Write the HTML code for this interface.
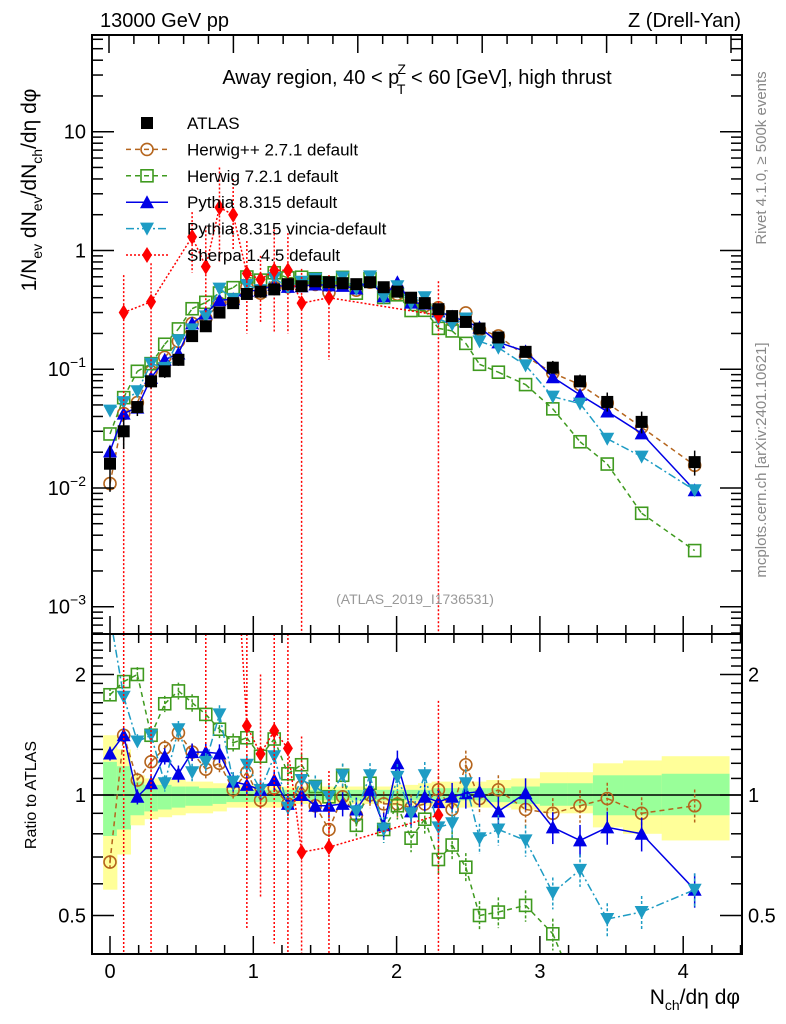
<!DOCTYPE html>
<html><head><meta charset="utf-8"><style>
html,body{margin:0;padding:0;background:#fff;overflow:hidden;width:786px;height:1024px;}
svg{display:block;overflow:hidden;font-family:"Liberation Sans",Arial,sans-serif;}
</style></head><body>
<svg id="c" width="786" height="1024" viewBox="0 0 786 1024" xmlns="http://www.w3.org/2000/svg">
<defs>
<clipPath id="clipMain"><rect x="92" y="35" width="650" height="599"/></clipPath>
<clipPath id="clipRatio"><rect x="92" y="634" width="650" height="320"/></clipPath>
</defs>
<g id="bands" clip-path="url(#clipRatio)"></g>
<line x1="92" y1="795" x2="742" y2="795" stroke="#000" stroke-width="1.5"/>
<g id="series-main" clip-path="url(#clipMain)"></g>
<g id="series-ratio" clip-path="url(#clipRatio)"></g>
<g id="axes"></g>
<rect x="92" y="35" width="650" height="599" fill="none" stroke="#000" stroke-width="2"/>
<rect x="92" y="634" width="650" height="320" fill="none" stroke="#000" stroke-width="2"/>
<text x="100" y="27" font-size="20">13000 GeV pp</text>
<text x="741" y="27" font-size="20" text-anchor="end">Z (Drell-Yan)</text>
<text x="417" y="84" font-size="20" text-anchor="middle">Away region, 40 &lt; p<tspan font-size="14" dy="-10" dx="-2">Z</tspan><tspan font-size="14" dy="20" dx="-9">T</tspan><tspan dy="-10"> &lt; 60 [GeV], high thrust</tspan></text>
<text transform="translate(36,190) rotate(-90)" font-size="21" text-anchor="middle">1/N<tspan font-size="14" dy="6">ev</tspan><tspan dy="-6"> dN</tspan><tspan font-size="14" dy="6">ev</tspan><tspan dy="-6">/dN</tspan><tspan font-size="14" dy="6">ch</tspan><tspan dy="-6">/dη dφ</tspan></text>
<text transform="translate(36,795) rotate(-90)" font-size="16" text-anchor="middle">Ratio to ATLAS</text>
<text x="740" y="1004" font-size="21" text-anchor="end">N<tspan font-size="14" dy="6">ch</tspan><tspan dy="-6">/dη dφ</tspan></text>
<text transform="translate(766,158) rotate(-90)" font-size="15" fill="#888" text-anchor="middle">Rivet 4.1.0, ≥ 500k events</text>
<text transform="translate(766,460) rotate(-90)" font-size="15" fill="#888" text-anchor="middle">mcplots.cern.ch [arXiv:2401.10621]</text>
<text x="415" y="604" font-size="14" fill="#999" text-anchor="middle">(ATLAS_2019_I1736531)</text>
<g id="legend"></g>
</svg>
<script>
const xCenters = [0,0.0955,0.191,0.2865,0.382,0.4775,0.573,0.6685,0.764,0.8595,0.955,1.0505,1.146,1.2415,1.337,1.4325,1.528,1.6235,1.719,1.8145,1.91,2.0055,2.101,2.1965,2.292,2.3875,2.483,2.5785,2.71,2.90,3.09,3.28,3.47,3.71,4.08];
const binEdges = [-0.048,0.048,0.143,0.239,0.334,0.43,0.525,0.621,0.716,0.812,0.907,1.003,1.098,1.194,1.289,1.385,1.48,1.576,1.671,1.767,1.862,1.958,2.053,2.149,2.244,2.34,2.435,2.531,2.626,2.80,3.0,3.19,3.37,3.58,3.85,4.32];
const atlas = [0.016,0.030,0.048,0.079,0.096,0.12,0.19,0.23,0.30,0.36,0.43,0.45,0.47,0.52,0.50,0.55,0.54,0.53,0.52,0.54,0.49,0.45,0.40,0.36,0.32,0.28,0.25,0.22,0.185,0.14,0.103,0.079,0.053,0.036,0.0165];
const yellowHi = [1.41,1.30,1.12,1.10,1.10,1.09,1.08,1.08,1.07,1.06,1.06,1.06,1.06,1.05,1.05,1.05,1.05,1.05,1.05,1.05,1.05,1.06,1.06,1.07,1.08,1.08,1.08,1.08,1.09,1.10,1.14,1.14,1.20,1.22,1.25];
const yellowLo = [0.58,0.71,0.84,0.87,0.88,0.89,0.90,0.90,0.91,0.93,0.93,0.93,0.93,0.95,0.95,0.95,0.95,0.95,0.95,0.95,0.95,0.94,0.94,0.94,0.93,0.93,0.93,0.93,0.93,0.92,0.90,0.90,0.83,0.80,0.77];
const greenHi = [1.21,1.18,1.08,1.06,1.06,1.05,1.05,1.04,1.04,1.03,1.03,1.03,1.03,1.03,1.03,1.03,1.03,1.03,1.03,1.03,1.03,1.03,1.03,1.03,1.04,1.04,1.04,1.04,1.04,1.05,1.07,1.07,1.12,1.12,1.13];
const greenLo = [0.79,0.82,0.89,0.91,0.92,0.93,0.94,0.94,0.95,0.96,0.96,0.96,0.96,0.97,0.97,0.97,0.97,0.97,0.97,0.97,0.97,0.97,0.97,0.97,0.97,0.97,0.97,0.97,0.96,0.95,0.94,0.94,0.89,0.89,0.89];
const ratioHerwigpp = [0.68,1.41,1.09,1.21,1.31,1.43,1.28,1.16,1.20,1.03,1.14,0.97,1.04,0.95,1.05,0.94,0.82,0.99,0.89,1.0,0.95,0.95,0.93,0.95,1.03,0.92,1.19,0.98,1.03,0.92,0.90,0.94,0.98,0.90,0.94];
const ratioHerwig7 = [1.78,1.92,2.0,1.41,1.69,1.82,1.70,1.59,1.46,1.35,1.39,1.25,1.38,1.13,1.19,1.05,0.99,1.12,0.84,1.07,0.82,0.94,0.78,0.87,0.69,0.75,0.66,0.50,0.51,0.53,0.45,0.31,0.30,0.17,0.18];
const ratioPythia = [1.27,1.41,0.99,1.07,1.25,1.13,1.28,1.28,1.27,1.08,1.06,1.03,1.09,0.95,1.0,0.94,0.94,0.95,0.92,1.03,0.84,1.20,0.91,0.99,0.96,0.99,1.01,1.02,0.91,1.01,0.83,0.77,0.83,0.80,0.58];
const ratioVincia = [2.8,1.76,1.36,1.41,1.07,1.46,1.14,1.21,1.59,1.08,1.19,1.03,1.25,0.93,1.09,1.05,0.99,1.12,0.91,1.12,0.82,1.11,0.90,1.12,0.83,0.85,1.07,0.78,0.82,0.77,0.57,0.65,0.49,0.51,0.58];
const sherpaIdx = [1,3,6,7,8,9,10,11,12,13,14,16,24];
const sherpaVal = [0.30,0.37,1.3,0.73,2.3,2.0,0.64,0.57,0.68,0.68,0.36,0.40,0.285];
const sherpaHi = [0.62,0.78,2.1,1.6,5,4,1.2,0.9,1.5,1.4,0.7,0.62,0.55];
const sherpaLo = [0.0001,0.0001,0.65,0.3,0.8,1.0,0.2,0.25,0.2,0.2,0.0001,0.12,0.0001];
const mainTicks = [10,1,0.1,0.01,0.001];
const mainTickLabels = ["10","1","10^-1","10^-2","10^-3"];
const ratioTicks = [2,1,0.5];
const ratioTickLabels = ["2","1","0.5"];
const xTicks = [0,1,2,3,4];

const NS="http://www.w3.org/2000/svg";
function X(v){return 110+143.3*v;}
function YM(v){return 131.7-118.75*(Math.log10(v)-1);}
function YR(r){return 795-120.5*Math.log2(r);}
const RT=634, RB=954, MT=35, MB=634;
function clampM(y){return Math.max(MT,Math.min(MB,y));}
function clampR(y){return Math.max(RT,Math.min(RB,y));}
function mk(tag,attrs,parent){const e=document.createElementNS(NS,tag);for(const k in attrs)e.setAttribute(k,attrs[k]);parent.appendChild(e);return e;}
// clip a polyline to y-range [t,b], return path d
function clipPath(pts,t,b){
  let d='';
  for(let i=0;i<pts.length-1;i++){
    let [x1,y1]=pts[i],[x2,y2]=pts[i+1];
    let u0=0,u1=1;const dy=y2-y1;
    if(dy===0){ if(y1<t||y1>b) continue; }
    else{
      let ua=(t-y1)/dy, ub=(b-y1)/dy;
      let lo=Math.min(ua,ub), hi=Math.max(ua,ub);
      u0=Math.max(0,lo); u1=Math.min(1,hi);
      if(u0>u1) continue;
    }
    const ax=x1+(x2-x1)*u0, ay=y1+dy*u0, bx=x1+(x2-x1)*u1, by=y1+dy*u1;
    d+=`M${ax.toFixed(2)},${ay.toFixed(2)}L${bx.toFixed(2)},${by.toFixed(2)}`;
  }
  return d;
}
const gm=document.getElementById('series-main'), gr=document.getElementById('series-ratio'), ga=document.getElementById('axes'), gb=document.getElementById('bands'), gl=document.getElementById('legend');

for(let i=0;i<atlas.length;i++){
  const x1=X(binEdges[i]), x2=X(binEdges[i+1]);
  let r=mk('rect',{x:x1,y:YR(yellowHi[i]),width:x2-x1+0.5,height:YR(yellowLo[i])-YR(yellowHi[i]),fill:'#ffff99'},gb);
  
  
  r=mk('rect',{x:x1,y:YR(greenHi[i]),width:x2-x1+0.5,height:YR(greenLo[i])-YR(greenHi[i]),fill:'#99ff99'},gb);
  
  
}

function marker(type,x,y,color,parent,name){
  let e;
  if(type==='sq') e=mk('rect',{x:x-6,y:y-6,width:12,height:12,fill:'#000'},parent);
  else if(type==='circ') e=mk('circle',{cx:x,cy:y,r:6,fill:'none',stroke:color,'stroke-width':1.6},parent);
  else if(type==='osq') e=mk('rect',{x:x-6,y:y-6,width:12,height:12,fill:'none',stroke:color,'stroke-width':1.6},parent);
  else if(type==='tri') e=mk('polygon',{points:`${x},${y-7} ${x-7},${y+6} ${x+7},${y+6}`,fill:color},parent);
  else if(type==='itri') e=mk('polygon',{points:`${x},${y+7} ${x-7},${y-6} ${x+7},${y-6}`,fill:color},parent);
  else if(type==='dia') e=mk('polygon',{points:`${x},${y-8} ${x-5},${y} ${x},${y+8} ${x+5},${y}`,fill:color},parent);
  
  
  return e;
}

const mcs=[
 {r:ratioHerwigpp,color:'#b5651d',dash:'5,4',m:'circ',name:'herwigpp'},
 {r:ratioHerwig7,color:'#3f9a1f',dash:'5,4',m:'osq',name:'herwig7'},
 {r:ratioPythia,color:'#0000e6',dash:'',m:'tri',name:'pythia'},
 {r:ratioVincia,color:'#1e9cc4',dash:'8,3,2,3',m:'itri',name:'vincia'}
];
mcs.forEach(s=>{
  const pm=[],pr=[];
  for(let i=0;i<atlas.length;i++){
    pm.push([X(xCenters[i]),YM(atlas[i]*s.r[i])]);
    pr.push([X(xCenters[i]),YR(s.r[i])]);
  }
  let l=mk('path',{d:clipPath(pm,MT,MB),fill:'none',stroke:s.color,'stroke-width':1.5,'stroke-dasharray':s.dash},gm);
  
  
  l=mk('path',{d:clipPath(pr,RT,RB),fill:'none',stroke:s.color,'stroke-width':1.5,'stroke-dasharray':s.dash},gr);
  
  
  for(let i=0;i<atlas.length;i++){
    const x=X(xCenters[i]);
    const e=0.04+0.06*i/atlas.length;
    const rr=s.r[i];
    const ya=clampR(YR(rr*(1+e))), yb=clampR(YR(rr*(1-e)));
    if(yb>ya){
      let b=mk('line',{x1:x,x2:x,y1:ya,y2:yb,stroke:s.color,'stroke-width':1.5,'stroke-dasharray':s.dash?'3,2':''},gr);
      
      
    }
    const ym=YM(atlas[i]*rr);
    if(ym>MT-6&&ym<MB+6) marker(s.m,x,ym,s.color,gm,s.name+'-point');
    const yr=YR(rr);
    if(yr>RT-6&&yr<RB+6) marker(s.m,x,yr,s.color,gr,s.name+'-ratio-point');
  }
});

{
  const pm=[],pr=[];
  for(let k=0;k<sherpaIdx.length;k++){
    const i=sherpaIdx[k], x=X(xCenters[i]);
    pm.push([x,YM(sherpaVal[k])]);
    pr.push([x,YR(sherpaVal[k]/atlas[i])]);
    let b=mk('line',{x1:x,x2:x,y1:clampM(YM(sherpaHi[k])),y2:clampM(YM(sherpaLo[k])),stroke:'#ff0000','stroke-width':1.5,'stroke-dasharray':'2,2'},gm);
    
    
    b=mk('line',{x1:x,x2:x,y1:clampR(YR(sherpaHi[k]/atlas[i])),y2:clampR(YR(sherpaLo[k]/atlas[i])),stroke:'#ff0000','stroke-width':1.5,'stroke-dasharray':'2,2'},gr);
    
    
  }
  let l=mk('path',{d:clipPath(pm,MT,MB),fill:'none',stroke:'#ff0000','stroke-width':1.5,'stroke-dasharray':'2,2'},gm);
  
  
  l=mk('path',{d:clipPath(pr,RT,RB),fill:'none',stroke:'#ff0000','stroke-width':1.5,'stroke-dasharray':'2,2'},gr);
  
  
  for(let k=0;k<sherpaIdx.length;k++){
    const i=sherpaIdx[k], x=X(xCenters[i]);
    marker('dia',x,YM(sherpaVal[k]),'#ff0000',gm,'sherpa-point');
    const yr=YR(sherpaVal[k]/atlas[i]);
    if(yr>RT-8&&yr<RB+8) marker('dia',x,yr,'#ff0000',gr,'sherpa-ratio-point');
  }
}
for(let i=0;i<atlas.length;i++){
  const x=X(xCenters[i]);
  const b=mk('line',{x1:x,x2:x,y1:YM(atlas[i]*yellowHi[i]),y2:YM(atlas[i]*yellowLo[i]),stroke:'#000','stroke-width':1.5},gm);
  
  
  marker('sq',x,YM(atlas[i]),'#000',gm,'atlas-point');
}

function tl(x1,y1,x2,y2,name){const e=mk('line',{x1,y1,x2,y2,stroke:'#000','stroke-width':1.5},ga);}
function tx(x,y,s,anchor,name,size){const e=mk('text',{x,y,'font-size':size||20,'text-anchor':anchor},ga);
  const m=s.match(/^10\^(.*)$/);
  if(m){e.textContent='10';const t=mk('tspan',{dy:-9,'font-size':14},e);t.textContent=m[1].replace('-','−');}
  else e.textContent=s;
  }
for(let v=-0.1;v<=4.41;v+=0.1){
  const vv=Math.round(v*10)/10; if(Math.abs(Math.round(vv/0.2)*0.2-vv)>1e-6) continue;
  const x=X(vv); if(x<92||x>742) continue;
  const major=Math.abs(vv-Math.round(vv))<1e-6;
  const len=major?18:9;
  tl(x,954,x,954-len,'x-tick'); tl(x,634,x,634+len,'x-tick'); tl(x,634,x,634-len,'x-tick');
}
xTicks.forEach(v=>tx(X(v),978,String(v),'middle','x-tick-label'));
for(let k=-1;k<=30;k++){
  const x=109+24.88*k; if(x<93||x>741) continue;
  const major=k%5===0;
  tl(x,35,x,35+(major?18:9),'top-tick');
}
for(let d=-4;d<=1;d++){
  for(let m=1;m<=9;m++){
    const v=m*Math.pow(10,d); const y=YM(v); if(y<35||y>634) continue;
    const len=m===1?22:11;
    tl(92,y,92+len,y,'y-tick'); tl(742,y,742-len,y,'y-tick');
  }
}
mainTicks.forEach((v,i)=>tx(86,YM(v)+7,mainTickLabels[i],'end','y-tick-label',20));
for(let v=0.4;v<=2.5;v=Math.round((v+0.1)*10)/10){
  const y=YR(v); if(y<636||y>952) continue;
  const major=(v===0.5||v===1||v===2);
  const len=major?22:11;
  tl(92,y,92+len,y,'ratio-tick'); tl(742,y,742-len,y,'ratio-tick');
}
ratioTicks.forEach((v,i)=>{tx(86,YR(v)+7,ratioTickLabels[i],'end','ratio-tick-label-left',20);tx(748,YR(v)+7,ratioTickLabels[i],'start','ratio-tick-label-right',20);});

const leg=[
 {t:'ATLAS',m:'sq',c:'#000',d:null},
 {t:'Herwig++ 2.7.1 default',m:'circ',c:'#b5651d',d:'5,4'},
 {t:'Herwig 7.2.1 default',m:'osq',c:'#3f9a1f',d:'5,4'},
 {t:'Pythia 8.315 default',m:'tri',c:'#0000e6',d:''},
 {t:'Pythia 8.315 vincia-default',m:'itri',c:'#1e9cc4',d:'8,3,2,3'},
 {t:'Sherpa 1.4.5 default',m:'dia',c:'#ff0000',d:'2,2'}
];
leg.forEach((e,i)=>{
  const y=123+26.4*i;
  const g=mk('g',{},gl);
  
  
  if(e.d!==null){const l=mk('line',{x1:126,x2:168,y1:y,y2:y,stroke:e.c,'stroke-width':1.5,'stroke-dasharray':e.d},g);}
  marker(e.m,147,y,e.c,g,'legend-marker');
  const t=mk('text',{x:187,y:y+6,'font-size':17},g);t.textContent=e.t;
  
  
});
</script>
</body></html>
